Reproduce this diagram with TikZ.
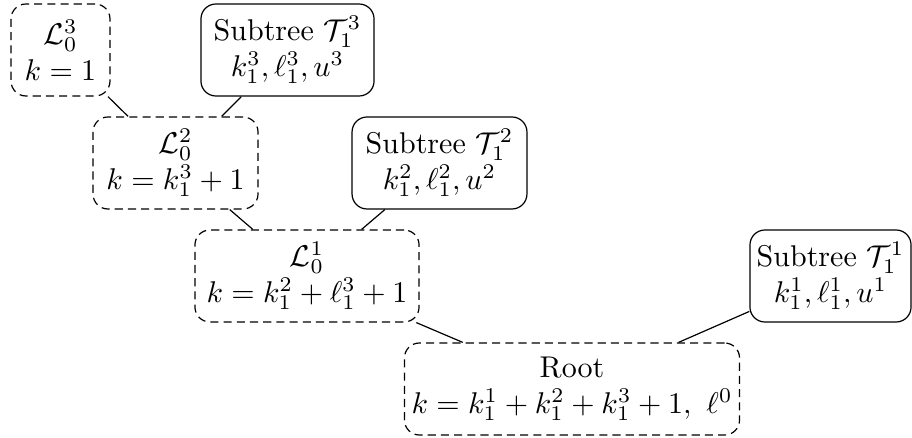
\documentclass[tikz,border=0pt]{standalone}
\begin{document}
\begin{tikzpicture}[x={(0.33333pt,0)},y={(0,-0.33333pt)},
  box/.style={draw,rounded corners=5pt,align=center,minimum height=30.67pt,inner sep=2pt},
  lbox/.style={box,dash pattern=on 2.7pt off 1.7pt},
  sbox/.style={box}]
\useasboundingbox (0,0) rectangle (912,438);
\node[lbox,minimum width=33pt] (L3) at (60.5,50) {$\mathcal{L}_0^3$\\ $k=1$};
\node[sbox,minimum width=57.7pt] (T3) at (287.5,50) {Subtree $\mathcal{T}_1^3$\\ $k_1^3, \ell_1^3, u^3$};
\node[lbox,minimum width=55pt] (L2) at (175.5,163) {$\mathcal{L}_0^2$\\ $k=k_1^3+1$};
\node[sbox,minimum width=58.3pt] (T2) at (439.5,163) {Subtree $\mathcal{T}_1^2$\\ $k_1^2, \ell_1^2, u^2$};
\node[lbox,minimum width=74.7pt] (L1) at (307,276) {$\mathcal{L}_0^1$\\ $k=k_1^2+\ell_1^3+1$};
\node[sbox,minimum width=53.7pt] (T1) at (830.5,276) {Subtree $\mathcal{T}_1^1$\\ $k_1^1, \ell_1^1, u^1$};
\node[lbox,minimum width=111.7pt] (R) at (572,389) {Root\\ $k=k_1^1+k_1^2+k_1^3+1,\ \ell^0$};
\draw (L3) -- (L2);
\draw (T3) -- (L2);
\draw (L2) -- (L1);
\draw (T2) -- (L1);
\draw (L1) -- (R);
\draw (T1) -- (R);
\end{tikzpicture}
\end{document}
